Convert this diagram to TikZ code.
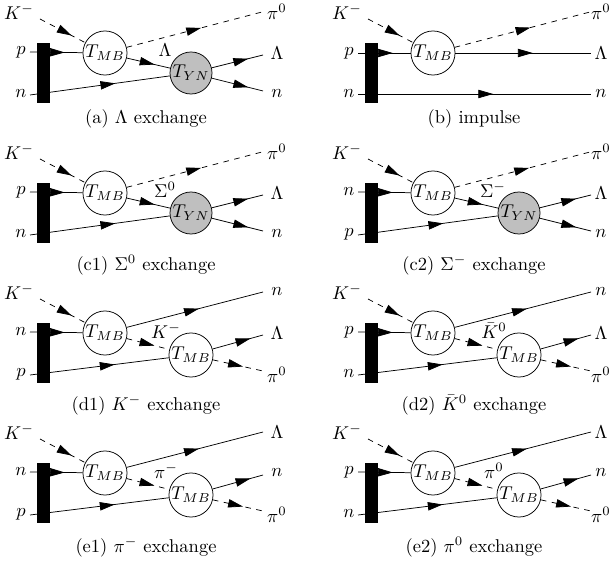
\documentclass[tikz,border=0pt]{standalone}
\usetikzlibrary{arrows.meta,decorations.markings}

\tikzset{
  fer/.style={decoration={markings,
      mark=at position #1 with {\arrow{Triangle[length=8pt,width=4.5pt]}}},
    postaction={decorate}},
  fer/.default=0.65,
  mes/.style={dashed, fer=#1},
  mes/.default=0.65,
  blob/.style={draw, circle, fill=white, inner sep=0pt, minimum size=23.8pt},
  ynblob/.style={blob, fill=gray!50, minimum size=22.7pt},
  deuteron/.style={fill=black, inner sep=0pt, minimum width=7pt, minimum height=32.4pt}
}

\begin{document}
\begin{tikzpicture}[x=0.54pt, y=-0.54pt]
    \useasboundingbox (0, 0) rectangle (616, 566);

    % Lambda and Sigma exchange
    \foreach \px/\py/\cy/\lx/\pa/\pb/\xch/\cap in {
        0/0/119/277/p/n/\Lambda/{(a) $\Lambda$ exchange},
        0/140/125/277/p/n/\Sigma^0/{(c1) $\Sigma^0$ exchange},
        328/140/125/273/n/p/\Sigma^-/{(c2) $\Sigma^-$ exchange}} {
      \begin{scope}[shift={(\px, \py)}]
        \node [blob] (mb) at (105, 53) {$T_{MB}$};
        \node [ynblob] (yn) at (191, 73) {$T_{YN}$};
        \coordinate (kin) at (40, 19);
        \coordinate (ain) at (30, 52);
        \coordinate (bin) at (30, 95);
        \coordinate (pout) at (262, 12);
        \coordinate (lout) at (263, 55);
        \coordinate (nout) at (263, 91);

        \draw [mes=0.7] (kin) -- (mb);
        \draw [fer=0.66] (ain) -- (mb);
        \draw [fer=0.61] (bin) -- (yn);
        \draw [fer=0.64] (mb) -- (yn);
        \draw [mes=0.55] (mb) -- (pout);
        \draw [fer=0.71] (yn) -- (lout);
        \draw [fer=0.71] (yn) -- (nout);
        \node [deuteron] (d) at (43.5, 73) {};

        \node (kl) at (19, 12) {$K^-$};
        \node (al) at (21, 52) {$\pa$};
        \node (bl) at (21, 94) {$\pb$};
        \node (pl) at (\lx, 12) {$\pi^0$};
        \node (ll) at (\lx, 53) {$\Lambda$};
        \node (nl) at (\lx, 94) {$n$};
        \node (xl) at (165, 50) {$\xch$};
        \node (cap) at (146, \cy) {\cap};
      \end{scope}
    }

    % Impulse
    \begin{scope}[shift={(328, 0)}]
      \node [blob] (mb) at (105, 53) {$T_{MB}$};
      \coordinate (kin) at (40, 19);
      \coordinate (ain) at (30, 53);
      \coordinate (bin) at (30, 94);
      \coordinate (pout) at (262, 12);
      \coordinate (lout) at (263, 53);
      \coordinate (nout) at (263, 94);

      \draw [mes=0.7] (kin) -- (mb);
      \draw [fer=0.66] (ain) -- (mb);
      \draw [mes=0.56] (mb) -- (pout);
      \draw [fer=0.57] (mb) -- (lout);
      \draw [fer=0.58] (bin) -- (nout);
      \node [deuteron] (d) at (43.5, 73) {};

      \node (kl) at (19, 12) {$K^-$};
      \node (al) at (21, 53) {$p$};
      \node (bl) at (21, 94) {$n$};
      \node (pl) at (273, 12) {$\pi^0$};
      \node (ll) at (273, 53) {$\Lambda$};
      \node (nl) at (273, 94) {$n$};
      \node (cap) at (146, 119) {(b) impulse};
    \end{scope}

    % Meson exchange
    \foreach \px/\py/\cy/\lx/\pa/\pb/\ta/\tb/\xch/\cap in {
        0/280/125/277/n/p/n/\Lambda/K^-/{(d1) $K^-$ exchange},
        328/280/125/273/p/n/n/\Lambda/\bar{K}^0/{(d2) $\bar{K}^0$ exchange},
        0/420/127/277/n/p/\Lambda/n/\pi^-/{(e1) $\pi^-$ exchange},
        328/420/127/273/p/n/\Lambda/n/\pi^0/{(e2) $\pi^0$ exchange}} {
      \begin{scope}[shift={(\px, \py)}]
        \node [blob] (mb) at (105, 53) {$T_{MB}$};
        \node [blob] (mbb) at (191, 75) {$T_{MB}$};
        \coordinate (kin) at (40, 19);
        \coordinate (ain) at (30, 52);
        \coordinate (bin) at (30, 95);
        \coordinate (tout) at (263, 12);
        \coordinate (mout) at (263, 55);
        \coordinate (pout) at (263, 91);

        \draw [mes=0.7] (kin) -- (mb);
        \draw [fer=0.66] (ain) -- (mb);
        \draw [fer=0.61] (bin) -- (mbb);
        \draw [mes=0.65] (mb) -- (mbb);
        \draw [fer=0.53] (mb) -- (tout);
        \draw [fer=0.75] (mbb) -- (mout);
        \draw [mes=0.6] (mbb) -- (pout);
        \node [deuteron] (d) at (43.5, 73) {};

        \node (kl) at (19, 12) {$K^-$};
        \node (al) at (21, 52) {$\pa$};
        \node (bl) at (21, 94) {$\pb$};
        \node (tl) at (\lx, 12) {$\ta$};
        \node (ml) at (\lx, 53) {$\tb$};
        \node (pl) at (\lx, 95) {$\pi^0$};
        \node (xl) at (166, 51) {$\xch$};
        \node (cap) at (146, \cy) {\cap};
      \end{scope}
    }
\end{tikzpicture}
\end{document}
